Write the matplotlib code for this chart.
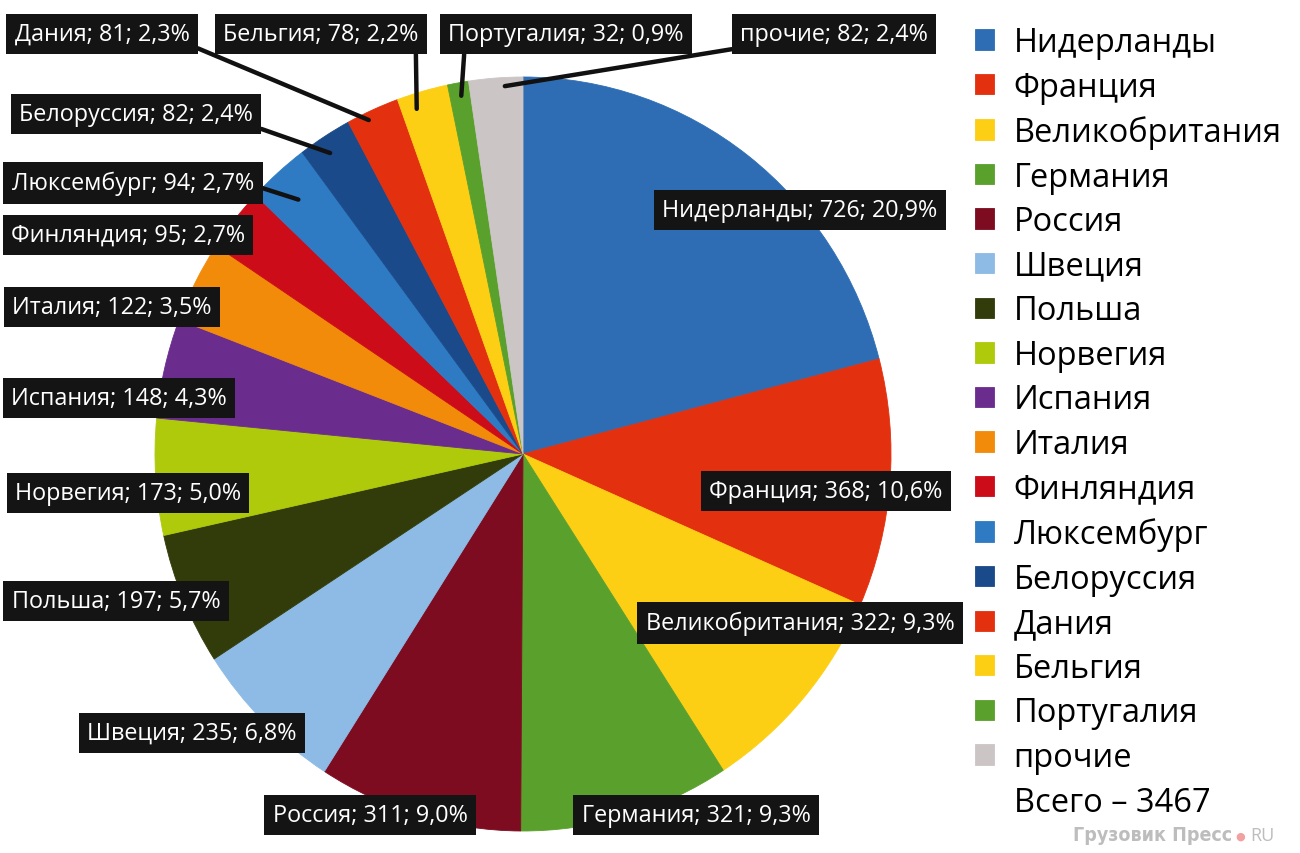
import numpy as np
import matplotlib
matplotlib.use('Agg')
import matplotlib.pyplot as plt
from matplotlib.patches import Patch

plt.rcParams['font.family'] = ['Open Sans', 'DejaVu Sans']

countries = ['Нидерланды', 'Франция', 'Великобритания', 'Германия', 'Россия', 'Швеция',
             'Польша', 'Норвегия', 'Испания', 'Италия', 'Финляндия', 'Люксембург',
             'Белоруссия', 'Дания', 'Бельгия', 'Португалия', 'прочие']
values = [726, 368, 322, 321, 311, 235, 197, 173, 148, 122, 95, 94, 82, 81, 78, 32, 82]
colors = ['#2E6DB4', '#E3300E', '#FCCF14', '#5AA02C', '#7D0C20', '#8DBBE6',
          '#323C0B', '#AFCA0B', '#6A2D8E', '#F28A0A', '#CC0C18', '#2E7BC4',
          '#1B4A8A', '#E3300E', '#FCCF14', '#5AA02C', '#CCC5C5']

# label box centres in pixels (from top-left)
labelPos = [(800, 211), (826, 492), (800, 624), (696, 816), (370, 816), (192, 734),
            (116, 602), (128, 494), (119, 399), (112, 308), (128, 236), (133, 184),
            (136, 115), (102, 35), (321, 35), (566, 35), (834, 35)]
# leader lines: index -> (fraction along wedge, radius, relpos on label)
leaders = {11: (0.46, 0.91, (1.0, 0.4)),
           12: (0.42, 0.955, (1.0, 0.0)),
           13: (0.36, 0.98, (1.0, 0.05)),
           14: (0.30, 0.96, (0.985, 0.0)),
           15: (0.55, 0.965, (0.07, 0.0)),
           16: (0.66, 0.977, (0.06, 0.0))}

W, H = 1300, 854
fig = plt.figure(figsize=(W / 100, H / 100), dpi=100)

cx, cy, rx, ry = 523, 455, 368, 377
ax = fig.add_axes([(cx - rx) / W, (H - cy - ry) / H, 2 * rx / W, 2 * ry / H])
wedges, _ = ax.pie(values, colors=colors, startangle=90, counterclock=False,
                   wedgeprops=dict(linewidth=0.6))
for w in wedges:
    w.set_edgecolor(w.get_facecolor())
ax.set_aspect('auto')
ax.set_xlim(-1, 1)
ax.set_ylim(-1, 1)
ax.axis('off')

total = sum(values)
cum = np.cumsum([0] + values) / total

def px(x, y):
    return (x / W, 1 - y / H)

boxStyle = dict(boxstyle='square,pad=0.36', fc='#141414', ec='none')
for i, (name, v) in enumerate(zip(countries, values)):
    text = f'{name}; {v}; {v / total * 100:.1f}%'.replace('.', ',')
    if i in leaders:
        frac, r, rel = leaders[i]
        theta = 2 * np.pi * (cum[i] + frac * (cum[i + 1] - cum[i]))
        ax.annotate(text, xy=(r * np.sin(theta), r * np.cos(theta)), xycoords='data',
                    xytext=px(*labelPos[i]), textcoords='figure fraction',
                    ha='center', va='center', color='white', fontsize=16.8, bbox=boxStyle,
                    arrowprops=dict(arrowstyle='-', color='#111111', lw=3.2,
                                    shrinkA=0, shrinkB=0, relpos=rel))
    else:
        fig.text(*px(*labelPos[i]), text, ha='center', va='center', color='white',
                 fontsize=16.8, bbox=boxStyle)

handles = list(wedges) + [Patch(fc='none', ec='none')]
legLabels = countries + [f'Всего – {total}']
fig.legend(handles, legLabels, loc='upper left', bbox_to_anchor=px(975, 27),
           frameon=False, fontsize=23.5, handlelength=0.58, handleheight=0.58,
           handletextpad=0.6, labelspacing=0.355, borderpad=0, borderaxespad=0)

fig.text(*px(1232, 836), 'Грузовик Пресс', ha='right', va='center', color='#BDBDBD',
         fontsize=14, fontweight='bold', family='DejaVu Sans', fontstretch='condensed')
fig.text(*px(1240, 837), '●', ha='center', va='center', color='#F2A0A0', fontsize=8)
fig.text(*px(1250, 836), 'RU', ha='left', va='center', color='#BDBDBD', fontsize=13)

fig.savefig('out.png', dpi=100)
